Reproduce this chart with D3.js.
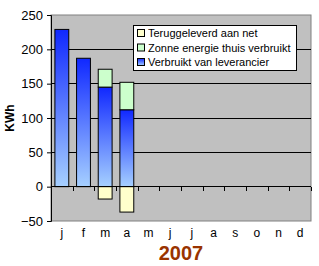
<!DOCTYPE html>
<html>
<head>
<meta charset="utf-8">
<script src="https://cdn.jsdelivr.net/npm/d3@7"></script>
<style>
body{margin:0;background:#fff;}
text{font-family:Arial,"Liberation Sans",sans-serif;}
</style>
</head>
<body>
<script>
let months = ["j","f","m","a","m","j","j","a","s","o","n","d"];
let leverancier = [229,187,145,112,0,0,0,0,0,0,0,0];
let zonneThuis = [0,0,26,40,0,0,0,0,0,0,0,0];
let teruggeleverd = [0,0,-18,-37,0,0,0,0,0,0,0,0];
let yTicks = [-50,0,50,100,150,200,250];
let seriesNames = ["Teruggeleverd aan net","Zonne energie thuis verbruikt","Verbruikt van leverancier"];

let pLeft = 51, pRight = 311, pTop = 15, pBottom = 221;

let svg = d3.select("body").append("svg").attr("width",319).attr("height",266);

let grad = svg.append("defs").append("linearGradient")
      .attr("id","blue").attr("x1",0).attr("y1",0).attr("x2",0).attr("y2",1);
grad.append("stop").attr("offset","0%").attr("stop-color","#1028ff");
grad.append("stop").attr("offset","100%").attr("stop-color","#a6d0ff");

let x = d3.scaleBand().domain(d3.range(12)).range([pLeft,pRight]).paddingInner(0.36).paddingOuter(0.18);
let y = d3.scaleLinear().domain([-50,250]).range([pBottom,pTop]);

svg.append("rect").attr("x",pLeft).attr("y",pTop).attr("width",pRight-pLeft).attr("height",pBottom-pTop)
      .attr("fill","#c0c0c0").attr("stroke","#808080");

// gridlines
svg.selectAll("line.grid").data([50,100,150,200]).enter().append("line")
      .attr("class","grid")
      .attr("x1",pLeft).attr("x2",pRight)
      .attr("y1",d=>y(d)).attr("y2",d=>y(d))
      .attr("stroke","#000").attr("stroke-width",1).attr("shape-rendering","crispEdges");

// bars
svg.selectAll("rect.lev").data(leverancier).enter().append("rect")
      .attr("class","lev")
      .attr("x",(d,i)=>x(i)).attr("width",x.bandwidth())
      .attr("y",d=>y(d)).attr("height",d=>y(0)-y(d))
      .attr("fill","url(#blue)").attr("stroke","#000").attr("stroke-width",1)
      .style("display",d=>d>0?null:"none");

svg.selectAll("rect.zon").data(zonneThuis).enter().append("rect")
      .attr("class","zon")
      .attr("x",(d,i)=>x(i)).attr("width",x.bandwidth())
      .attr("y",(d,i)=>y(leverancier[i]+d)).attr("height",d=>y(0)-y(d))
      .attr("fill","#ccffcc").attr("stroke","#000").attr("stroke-width",1)
      .style("display",d=>d>0?null:"none");

svg.selectAll("rect.ter").data(teruggeleverd).enter().append("rect")
      .attr("class","ter")
      .attr("x",(d,i)=>x(i)).attr("width",x.bandwidth())
      .attr("y",y(0)).attr("height",d=>y(d)-y(0))
      .attr("fill","#ffffcc").attr("stroke","#000").attr("stroke-width",1)
      .style("display",d=>d<0?null:"none");

// zero axis with ticks between categories
let xs = d3.scaleLinear().domain([0,12]).range([pLeft,pRight]);
svg.append("line").attr("x1",pLeft).attr("x2",pRight).attr("y1",y(0)).attr("y2",y(0))
      .attr("stroke","#000").attr("shape-rendering","crispEdges");
svg.selectAll("line.xt").data(d3.range(1,13)).enter().append("line")
      .attr("class","xt")
      .attr("x1",d=>Math.round(xs(d))).attr("x2",d=>Math.round(xs(d)))
      .attr("y1",y(0)).attr("y2",y(0)+4)
      .attr("stroke","#000").attr("shape-rendering","crispEdges");

svg.selectAll("text.xl").data(months).enter().append("text")
      .attr("class","xl")
      .attr("x",(d,i)=>xs(i+0.5)).attr("y",237)
      .attr("text-anchor","middle").attr("font-size",12).text(d=>d);

// y axis
let yAxis = d3.axisLeft(y).tickValues(yTicks).tickSize(4).tickPadding(4);
let ya = svg.append("g").attr("transform",`translate(${pLeft},0)`).call(yAxis);
ya.selectAll("text").attr("font-size",13).attr("font-family","Arial,'Liberation Sans',sans-serif").attr("fill","#000");
ya.select(".domain").attr("stroke","#000");

svg.append("text").attr("transform","translate(14,118) rotate(-90)")
      .attr("text-anchor","middle").attr("font-size",12).attr("font-weight","bold").text("KWh");

svg.append("text").attr("x",181).attr("y",260).attr("text-anchor","middle")
      .attr("font-size",20).attr("font-weight","bold").attr("fill","#993300").text("2007");

// legend
let legColors = ["#ffffcc","#ccffcc","url(#blue)"];
let lg = svg.append("g");
lg.append("rect").attr("x",133.5).attr("y",25.5).attr("width",163).attr("height",45)
      .attr("fill","#fff").attr("stroke","#000");
let li = lg.selectAll("g").data(seriesNames).enter().append("g")
      .attr("transform",(d,i)=>`translate(137,${29+i*14.5})`);
li.append("rect").attr("width",7).attr("height",7).attr("y",0.5).attr("x",0.5)
      .attr("fill",(d,i)=>legColors[i]).attr("stroke","#000");
li.append("text").attr("x",11).attr("y",8).attr("font-size",11).text(d=>d);
</script>
</body>
</html>
